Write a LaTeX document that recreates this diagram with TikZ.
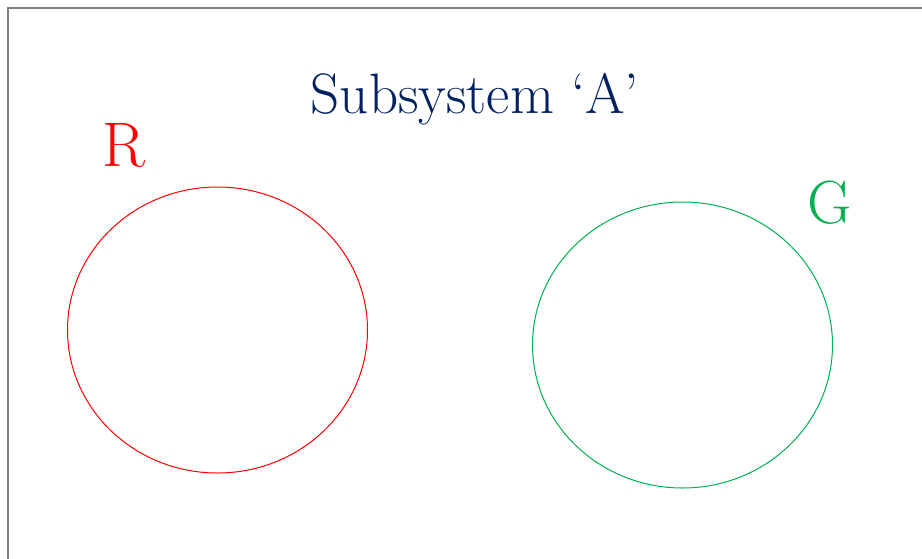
\documentclass[tikz,border=0pt]{standalone}
\usepackage{fontspec}
\definecolor{navy}{HTML}{002060}
\definecolor{grn}{HTML}{00B050}
\definecolor{frame}{HTML}{808080}
\begin{document}
\begin{tikzpicture}[x=1pt,y=-1pt,
  lbl/.style={inner sep=0pt,anchor=base},
  ring/.style={draw,line width=1pt}]
\useasboundingbox (0,0) rectangle (922,558);
\begin{scope}
\clip (0,0) rectangle (922,558);
\draw[frame,line width=2pt] (8,8) rectangle (940,580);
\end{scope}
\node[lbl,text=navy,font=\fontsize{57}{60}\selectfont] (title) at (475,113) {Subsystem `A'};
\node[lbl,text=red,font=\fontsize{63}{66}\selectfont] (R) at (123.5,166) {R};
\node[lbl,text=grn,font=\fontsize{61}{64}\selectfont] (G) at (830,223) {G};
\draw[ring,red] (217.5,330) ellipse (150 and 143);
\draw[ring,grn] (682.5,345) ellipse (150 and 143);
\end{tikzpicture}
\end{document}
